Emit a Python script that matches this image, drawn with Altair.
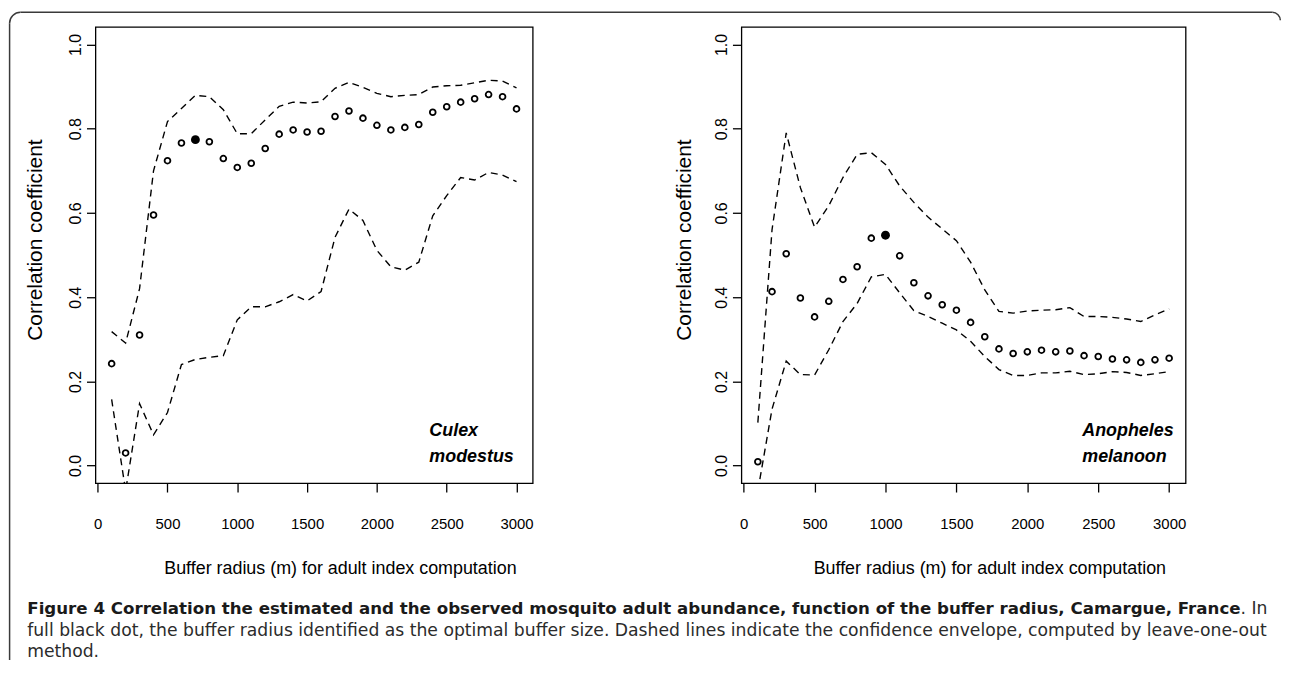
import math
import altair as alt
import pandas as pd

# ---------------- data ----------------
buffer_radius = [100, 200, 300, 400, 500, 600, 700, 800, 900, 1000,
                 1100, 1200, 1300, 1400, 1500, 1600, 1700, 1800, 1900, 2000,
                 2100, 2200, 2300, 2400, 2500, 2600, 2700, 2800, 2900, 3000]

culex_r = [0.242, 0.030, 0.310, 0.595, 0.724, 0.766, 0.774, 0.769, 0.729, 0.708,
           0.718, 0.753, 0.787, 0.797, 0.792, 0.794, 0.829, 0.842, 0.825, 0.808,
           0.797, 0.803, 0.810, 0.839, 0.852, 0.863, 0.871, 0.881, 0.876, 0.847]
culex_upper = [0.318, 0.291, 0.420, 0.700, 0.817, 0.848, 0.879, 0.876, 0.845, 0.788,
               0.788, 0.821, 0.853, 0.863, 0.861, 0.864, 0.896, 0.910, 0.898, 0.884,
               0.876, 0.879, 0.881, 0.899, 0.902, 0.903, 0.909, 0.915, 0.913, 0.897]
culex_lower = [0.157, -0.060, 0.147, 0.073, 0.126, 0.240, 0.252, 0.257, 0.261, 0.346,
               0.377, 0.377, 0.389, 0.406, 0.391, 0.413, 0.542, 0.609, 0.582, 0.511,
               0.472, 0.464, 0.483, 0.593, 0.641, 0.684, 0.678, 0.696, 0.690, 0.674]
culex_best = 700

anoph_r = [0.009, 0.413, 0.503, 0.398, 0.353, 0.390, 0.442, 0.472, 0.540, 0.547,
           0.498, 0.434, 0.403, 0.382, 0.369, 0.340, 0.306, 0.277, 0.266, 0.270,
           0.274, 0.270, 0.272, 0.261, 0.259, 0.253, 0.251, 0.245, 0.251, 0.255]
anoph_upper = [0.102, 0.560, 0.790, 0.660, 0.566, 0.617, 0.684, 0.739, 0.743, 0.715,
               0.664, 0.625, 0.590, 0.562, 0.534, 0.483, 0.417, 0.366, 0.362, 0.367,
               0.369, 0.370, 0.375, 0.354, 0.354, 0.352, 0.348, 0.342, 0.358, 0.372]
anoph_lower = [-0.060, 0.134, 0.248, 0.216, 0.215, 0.275, 0.342, 0.385, 0.448, 0.454,
               0.410, 0.368, 0.354, 0.338, 0.322, 0.295, 0.259, 0.228, 0.214, 0.214,
               0.220, 0.220, 0.224, 0.216, 0.218, 0.223, 0.221, 0.214, 0.218, 0.223]
anoph_best = 1000

x_ticks = [0, 500, 1000, 1500, 2000, 2500, 3000]
y_ticks = [0.0, 0.2, 0.4, 0.6, 0.8, 1.0]

x_title = "Buffer radius (m) for adult index computation"
y_title = "Correlation coefficient"
species_left = ["Culex", "modestus"]
species_right = ["Anopheles", "melanoon"]

caption_bold = ("Figure 4 Correlation the estimated and the observed mosquito adult "
                "abundance, function of the buffer radius, Camargue, France")
caption_rest = ". In"
caption_line2 = ("full black dot, the buffer radius identified as the optimal buffer size. "
                 "Dashed lines indicate the confidence envelope, computed by leave-one-out")
caption_line3 = "method."

# ---------------- styling ----------------
AXIS_FONT = "Liberation Sans"
CAP_FONT = "DejaVu Sans"
H = 459
W_LEFT = 440
W_RIGHT = 447
ONE = pd.DataFrame({"k": [0]})
BORDER = "#3a3a3a"


def panel(r, upper, lower, best, species, width, ytitle_x):
    df = pd.DataFrame({"radius": buffer_radius, "r": r, "upper": upper, "lower": lower})
    xscale = alt.Scale(domain=[-16, 3116], nice=False, zero=False)
    yscale = alt.Scale(domain=[-0.0416, 1.0416], nice=False, zero=False)
    x_axis = alt.Axis(values=x_ticks, format="d", grid=False, domain=False,
                      tickSize=9, tickWidth=1.3, tickColor="black",
                      labelFont=AXIS_FONT, labelFontSize=15, labelColor="black",
                      labelPadding=32, labelBaseline="middle", labelFlush=False,
                      labelOverlap=False,
                      title=x_title, titleFont=AXIS_FONT, titleFontSize=18,
                      titleFontWeight="normal", titleColor="black",
                      titleX=width / 2 + 26, titleY=86, titleAlign="center",
                      titleBaseline="middle")
    y_axis = alt.Axis(values=y_ticks, format=".1f", grid=False, domain=False,
                      tickSize=9, tickWidth=1.3, tickColor="black",
                      labelFont=AXIS_FONT, labelFontSize=16, labelColor="black",
                      labelAngle=270, labelAlign="center", labelBaseline="middle",
                      labelPadding=11, labelFlush=False, labelOverlap=False,
                      title=y_title, titleFont=AXIS_FONT, titleFontSize=21,
                      titleFontWeight="normal", titleColor="black",
                      titleAngle=270, titleX=ytitle_x, titleY=214,
                      titleAlign="center", titleBaseline="middle")
    base = alt.Chart(df).encode(
        x=alt.X("radius:Q", scale=xscale, axis=x_axis),
    )
    up = base.mark_line(color="black", strokeWidth=1.4, strokeDash=[7, 5], clip=True).encode(
        y=alt.Y("upper:Q", scale=yscale, axis=y_axis))
    lo = base.mark_line(color="black", strokeWidth=1.4, strokeDash=[7, 5], clip=True).encode(
        y=alt.Y("lower:Q"))
    pts = base.transform_filter(alt.datum.radius != best).mark_point(
        shape="circle", filled=False, color="black", strokeWidth=1.8, size=34, opacity=1
    ).encode(y=alt.Y("r:Q"))
    best_pt = base.transform_filter(alt.datum.radius == best).mark_point(
        shape="circle", filled=True, color="black", size=80, opacity=1
    ).encode(y=alt.Y("r:Q"))
    lab1 = alt.Chart(ONE).mark_text(
        font=AXIS_FONT, fontSize=18, fontWeight="bold", fontStyle="italic",
        align="left", baseline="middle", color="black"
    ).encode(x=alt.value(width - 104), y=alt.value(407), text=alt.value(species[0]))
    lab2 = alt.Chart(ONE).mark_text(
        font=AXIS_FONT, fontSize=18, fontWeight="bold", fontStyle="italic",
        align="left", baseline="middle", color="black"
    ).encode(x=alt.value(width - 104), y=alt.value(432.7), text=alt.value(species[1]))
    return [up, lo, pts, best_pt, lab1, lab2]


left_layers = panel(culex_r, culex_upper, culex_lower, culex_best, species_left, W_LEFT, -60)
right_layers = panel(anoph_r, anoph_upper, anoph_lower, anoph_best, species_right, W_RIGHT, -57.5)

# ---- figure card border & caption (drawn in left panel's pixel space) ----
# left plot origin sits at page (95.7, 27)
OX, OY = 95.7, 27.0
def px(v):
    return v - OX
def py(v):
    return v - OY

r_tl = 11
r_tr = 8
top_y = 12.3
left_x = 9.3
right_x = 1288.0

deco = [
    alt.Chart(ONE).mark_rule(color=BORDER, strokeWidth=1.5).encode(
        x=alt.value(px(left_x + r_tl)), x2=alt.value(px(right_x - r_tr)),
        y=alt.value(py(top_y))),
    alt.Chart(ONE).mark_rule(color=BORDER, strokeWidth=1.5).encode(
        x=alt.value(px(left_x)), y=alt.value(py(top_y + r_tl)), y2=alt.value(py(664))),
    alt.Chart(ONE).mark_arc(color=BORDER).encode(
        x=alt.value(px(left_x + r_tl)), y=alt.value(py(top_y + r_tl)),
        radius=alt.value(r_tl + 0.75), radius2=alt.value(r_tl - 0.75),
        theta=alt.value(1.5 * math.pi), theta2=alt.value(2 * math.pi)),
    alt.Chart(ONE).mark_arc(color=BORDER).encode(
        x=alt.value(px(right_x - r_tr)), y=alt.value(py(top_y + r_tr)),
        radius=alt.value(r_tr + 0.75), radius2=alt.value(r_tr - 0.75),
        theta=alt.value(0.0), theta2=alt.value(0.5 * math.pi)),
    alt.Chart(ONE).mark_text(font=CAP_FONT, fontSize=16.76, fontWeight="bold",
                             align="right", baseline="alphabetic", color="#1a1a1a").encode(
        x=alt.value(px(1248)), y=alt.value(py(618)), text=alt.value(caption_bold)),
    alt.Chart(ONE).mark_text(font=CAP_FONT, fontSize=17.3, align="left",
                             baseline="alphabetic", color="#2b2b2b").encode(
        x=alt.value(px(1248)), y=alt.value(py(618)), text=alt.value(caption_rest)),
    alt.Chart(ONE).mark_text(font=CAP_FONT, fontSize=17.3, align="left",
                             baseline="alphabetic", color="#2b2b2b").encode(
        x=alt.value(px(27)), y=alt.value(py(640)), text=alt.value(caption_line2)),
    alt.Chart(ONE).mark_text(font=CAP_FONT, fontSize=17.3, align="left",
                             baseline="alphabetic", color="#2b2b2b").encode(
        x=alt.value(px(27)), y=alt.value(py(661)), text=alt.value(caption_line3)),
]

left = alt.layer(*left_layers, *deco).properties(width=W_LEFT, height=H)
right = alt.layer(*right_layers).properties(width=W_RIGHT, height=H)

chart = alt.hconcat(left, right, spacing=210, bounds="flush").properties(
    padding={"left": 0, "top": 0, "right": 0, "bottom": 0},
    background="white",
).configure_view(stroke="black", strokeWidth=1.3)

chart.save("out.html", embed_options={"renderer": "svg", "actions": False})
